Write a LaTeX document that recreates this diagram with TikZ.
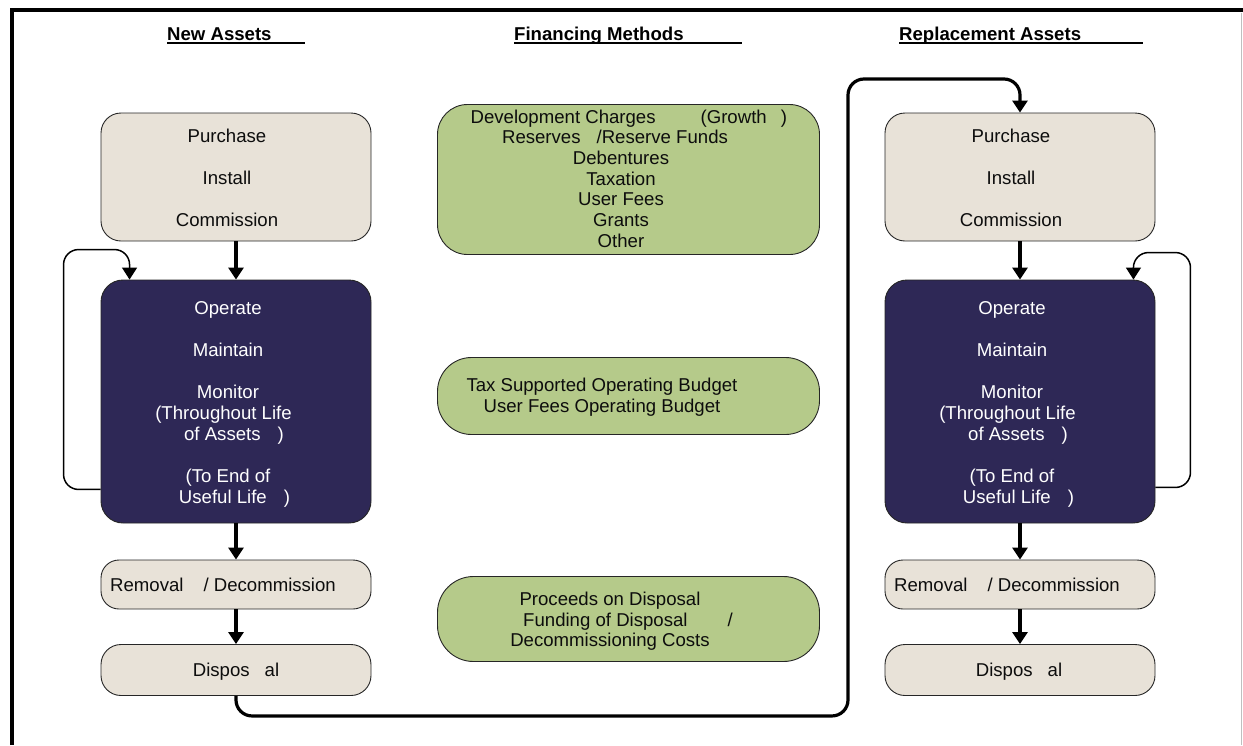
\documentclass[tikz,border=0pt]{standalone}
\usepackage{fontspec}
\setmainfont{Liberation Sans}
\usetikzlibrary{arrows.meta}
\definecolor{beige}{HTML}{E8E2D8}
\definecolor{navy}{HTML}{2E2856}
\definecolor{sage}{HTML}{B5CA8A}
\begin{document}
\begin{tikzpicture}[x=1pt,y=-1pt,
  box/.style={draw=black!85, line width=0.9pt, inner sep=0pt, rounded corners=20pt},
  beigebox/.style={box, fill=beige, minimum width=270pt},
  navybox/.style={box, fill=navy, minimum width=270pt},
  greenbox/.style={box, fill=sage, minimum width=382pt},
  txt/.style={font=\fontsize{18.6}{21}\selectfont, align=center, inner sep=0pt, text=black!95},
  gtxt/.style={font=\fontsize{18.6}{20.7}\selectfont, align=center, inner sep=0pt, text=black!95},
  wtxt/.style={txt, text=white},
  head/.style={font=\bfseries\fontsize{18.6}{21}\selectfont, inner sep=0pt, anchor=base west},
  uline/.style={line width=1.8pt},
  flow/.style={line width=3.2pt, -{Triangle[width=15pt,length=12pt]}},
  loopline/.style={line width=1.5pt, rounded corners=15pt, -{Triangle[width=15pt,length=12pt]}},
]
\useasboundingbox (0,0) rectangle (1243,745);
% frame
\draw[line width=4.5pt] (12,745) -- (12,10) -- (1243,10);
\draw[black!25, line width=0.8pt] (1241,13) -- (1241,745);

% headings
\node[head] (h1) at (167,40) {New Assets};
\node[head] (h2) at (514,40) {Financing Methods};
\node[head] (h3) at (899,40) {Replacement Assets};
\draw[uline] ([yshift=-2.7pt]h1.base west) -- ++(138,0);
\draw[uline] ([yshift=-2.7pt]h2.base west) -- ++(228,0);
\draw[uline] ([yshift=-2.7pt]h3.base west) -- ++(244,0);

% left column boxes
\node[beigebox, minimum height=128pt] (p1) at (236,177) {};
\node[navybox, minimum height=243pt, rounded corners=22pt] (o1) at (236,401.5) {};
\node[beigebox, minimum height=49pt, rounded corners=18pt] (r1) at (236,584.5) {};
\node[beigebox, minimum height=51pt] (d1) at (236,670) {};

% right column boxes
\node[beigebox, minimum height=128pt] (p2) at (1020,177) {};
\node[navybox, minimum height=243pt, rounded corners=22pt] (o2) at (1020,401.5) {};
\node[beigebox, minimum height=49pt, rounded corners=18pt] (r2) at (1020,584.5) {};
\node[beigebox, minimum height=51pt] (d2) at (1020,670) {};

% middle boxes
\node[greenbox, minimum height=150pt, rounded corners=30pt] (g1) at (628.5,179.5) {};
\node[greenbox, minimum height=77pt, rounded corners=34pt] (g2) at (628.5,396) {};
\node[greenbox, minimum height=85pt, rounded corners=36pt] (g3) at (628.5,619) {};

% texts left
\node[txt] (tp1) at (227,177.5) {Purchase\\[21pt]Install\\[21pt]Commission};
\node[wtxt] (to1) at (228,404) {Operate\\[21pt]Maintain\\[21pt]Monitor\\\hspace*{-9pt}(Throughout Life\\\hspace*{12pt}of Assets\hspace{17pt})\\[21pt](To End of\\\hspace*{13pt}Useful Life\hspace{17pt})};
\node[txt, anchor=base] (tr1) at (223,591.5) {Removal\hspace{20pt}/ Decommission};
\node[txt, anchor=base] (td1) at (236,676.7) {Dispos\hspace{15pt}al};

% texts right
\node[txt] (tp2) at (1011,177.5) {Purchase\\[21pt]Install\\[21pt]Commission};
\node[wtxt] (to2) at (1012,404) {Operate\\[21pt]Maintain\\[21pt]Monitor\\\hspace*{-9pt}(Throughout Life\\\hspace*{12pt}of Assets\hspace{17pt})\\[21pt](To End of\\\hspace*{13pt}Useful Life\hspace{17pt})};
\node[txt, anchor=base] (tr2) at (1007,591.5) {Removal\hspace{20pt}/ Decommission};
\node[txt, anchor=base] (td2) at (1019,676.7) {Dispos\hspace{15pt}al};

% texts middle
\node[gtxt] (tg1) at (621,178.5) {\hspace*{15.6pt}Development Charges\hspace{45pt}(Growth\hspace{14pt})\\\hspace*{-12pt}Reserves\hspace{16pt}/Reserve Funds\\Debentures\\Taxation\\User Fees\\Grants\\Other};
\node[txt] (tg2) at (602,397.5) {Tax Supported Operating Budget\\User Fees Operating Budget};
\node[gtxt] (tg3) at (610,621.2) {Proceeds on Disposal\\\hspace*{36pt}Funding of Disposal\hspace{40pt}/\\Decommissioning Costs};

% flow arrows
\draw[flow] (p1.south) -- (o1.north);
\draw[flow] (o1.south) -- (r1.north);
\draw[flow] (r1.south) -- (d1.north);
\draw[flow] (p2.south) -- (o2.north);
\draw[flow] (o2.south) -- (r2.north);
\draw[flow] (r2.south) -- (d2.north);

% loops
\draw[loopline] ([yshift=34pt]o1.south west) -- ++(-37,0) |- ([xshift=29pt,yshift=30pt]o1.north west) -- ([xshift=29pt]o1.north west);
\draw[loopline] ([yshift=36pt]o2.south east) -- ++(35,0) |- ([xshift=-22pt,yshift=27pt]o2.north east) -- ([xshift=-22pt]o2.north east);

% big connector
\coordinate (bend) at (848,79);
\draw[flow, rounded corners=16pt] (d1.south) -- ++(0,20) -| (bend) -| (p2.north);
\end{tikzpicture}
\end{document}
